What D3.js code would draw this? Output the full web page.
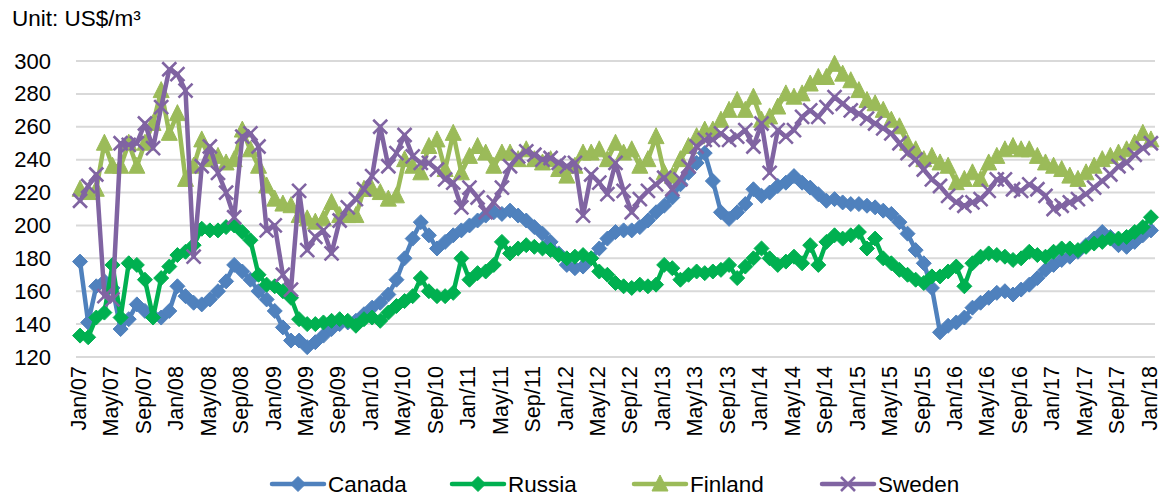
<!DOCTYPE html>
<html>
<head>
<meta charset="utf-8">
<script src="https://cdn.jsdelivr.net/npm/d3@7"></script>
<style>
  html, body { margin: 0; padding: 0; background: #fff; }
  svg text { font-family: "Liberation Sans", Arial, sans-serif; fill: #000; }
</style>
</head>
<body>
<svg id="chart" width="1161" height="497"></svg>
<script>
// Monthly export prices, Jan/07 .. Jan/18 (US$/m³).
const monthNames = ["Jan", "Feb", "Mar", "Apr", "May", "Jun", "Jul", "Aug", "Sep", "Oct", "Nov", "Dec"];
const years = ["07", "08", "09", "10", "11", "12", "13", "14", "15", "16", "17", "18"];
const categories = [];
years.forEach((yy) => monthNames.forEach((m) => categories.push(`${m}/${yy}`)));
categories.length = 133; // stop at Jan/18

const yTicks = [120, 140, 160, 180, 200, 220, 240, 260, 280, 300];
const xTickMonths = ["Jan", "May", "Sep"];

const canada = [
  178, 141, 163, 166, 162, 137, 143, 152, 148, 145, 144, 148,
  163, 157, 153, 152, 155, 160, 166, 176, 172, 167, 160, 155,
  148, 138, 130, 130, 126, 129, 133, 137, 140, 141, 142, 146,
  150, 153, 158, 167, 180, 192, 202, 194, 186, 190, 194, 197,
  200, 203, 206, 208, 207, 209, 206, 203, 199, 195, 190, 183,
  176, 174, 175, 180, 186, 192, 196, 197, 197, 199, 203, 208,
  212, 217, 225, 232, 238, 244, 227, 208, 204, 208, 213, 222,
  218, 220, 224, 226, 230, 226, 223, 219, 215, 216, 214, 213,
  213, 212, 211, 209, 207, 202, 195, 185, 177, 162, 135, 139,
  141, 144, 150, 153, 156, 159, 160, 158, 161, 164, 168, 173,
  176, 179, 181, 184, 188, 192, 196, 193, 188, 187, 190, 194,
  197
];

const russia = [
  133, 132, 144, 147, 176, 144, 177, 176, 167, 144, 168, 175,
  182, 184, 188, 198, 197, 197, 199, 200, 196, 191, 170, 164,
  163, 160, 156, 143, 140, 140, 141, 142, 143, 142, 139, 143,
  144, 142, 147, 151, 154, 157, 168, 160, 157, 157, 159, 180,
  167, 171, 172, 176, 190, 183, 186, 188, 187, 186, 185, 182,
  180, 181, 182, 180, 172, 170, 165, 163, 162, 164, 163, 164,
  176, 174, 167, 170, 172, 171, 172, 173, 176, 168, 175, 180,
  186, 180, 176, 178, 181, 177, 188, 176, 190, 194, 192, 194,
  196, 186, 192, 180, 177, 173, 170, 167, 165, 169, 169, 172,
  175, 163, 177, 181, 183, 182, 181, 179, 180, 184, 182, 181,
  184, 186, 186, 185, 187, 189, 190, 192, 192, 193, 196, 199,
  205
];

const finland = [
  222, 220, 222, 250, 236, 236, 250, 236, 250, 262, 282, 256,
  268, 228, 236, 252, 240, 242, 238, 240, 258, 246, 236, 224,
  216, 213, 212, 206, 204, 202, 204, 214, 206, 206, 206, 222,
  222, 220, 216, 218, 240, 236, 232, 248, 252, 234, 256, 232,
  242, 248, 244, 236, 244, 244, 240, 246, 240, 238, 240, 234,
  230, 236, 244, 244, 246, 240, 250, 244, 246, 236, 240, 254,
  232, 230, 240, 248, 254, 258, 258, 264, 270, 276, 270, 278,
  264, 266, 272, 280, 278, 280, 286, 290, 290, 298, 292, 288,
  282, 276, 274, 270, 264, 260, 250, 246, 240, 242, 238, 236,
  226, 228, 232, 228, 238, 242, 246, 248, 246, 246, 242, 238,
  236, 234, 230, 228, 232, 236, 240, 242, 244, 246, 250, 256,
  252
];

const sweden = [
  215, 224, 231, 157, 155, 250, 249, 250, 262, 247, 272, 295,
  292, 282, 181, 236, 248, 232, 220, 205, 254, 256, 248, 197,
  200, 170, 161, 221, 185, 193, 197, 183, 203, 211, 216, 222,
  230, 260, 236, 244, 255, 242, 238, 238, 234, 228, 226, 211,
  223, 217, 208, 214, 223, 236, 242, 245, 243, 240, 241, 238,
  236, 238, 206, 231, 226, 219, 238, 221, 208, 216, 221, 225,
  229, 222, 228, 236, 248, 252, 252, 256, 252, 254, 258, 248,
  262, 232, 258, 254, 258, 266, 270, 266, 272, 278, 274, 270,
  268, 265, 262, 259, 256, 250, 244, 240, 234, 228, 224, 218,
  214, 212, 214, 216, 221, 228, 228, 222, 221, 225, 222, 218,
  210, 212, 214, 216, 219, 223, 227, 231, 236, 238, 243, 247,
  250
];

const seriesNames = ["Canada", "Russia", "Finland", "Sweden"];
const seriesValues = [canada, russia, finland, sweden];
const seriesColors = ["#4F81BD", "#00B050", "#9BBB59", "#8064A2"];
const seriesMarkers = ["diamond", "diamond", "triangle", "cross"];

const svg = d3.select("#chart");
const plot = { left: 76, right: 1155, top: 61, bottom: 357 };

const x = d3.scaleBand().domain(categories).range([plot.left, plot.right]).padding(0);
const cx = (c) => x(c) + x.bandwidth() / 2;
const y = d3.scaleLinear().domain([120, 300]).range([plot.bottom, plot.top]);

// gridlines
svg.append("g")
  .selectAll("line")
  .data(yTicks)
  .join("line")
  .attr("x1", plot.left)
  .attr("x2", plot.right)
  .attr("y1", (d) => y(d))
  .attr("y2", (d) => y(d))
  .attr("stroke", "#d9d9d9")
  .attr("stroke-width", 2);

// y axis labels
const yAxis = svg.append("g")
  .attr("transform", `translate(${plot.left - 25},0)`)
  .call(d3.axisLeft(y).tickValues(yTicks).tickSize(0).tickPadding(0));
yAxis.select(".domain").remove();
yAxis.selectAll("text")
  .attr("font-size", 22)
  .attr("font-family", '"Liberation Sans", Arial, sans-serif')
  .attr("fill", "#000");

// x axis labels (every 4th month), rotated
const xAxis = svg.append("g")
  .attr("transform", `translate(0,${plot.bottom})`)
  .call(d3.axisBottom(x)
    .tickValues(categories.filter((c) => xTickMonths.includes(c.slice(0, 3))))
    .tickSize(0)
    .tickPadding(0));
xAxis.select(".domain").remove();
xAxis.selectAll("text")
  .attr("font-size", 21.5)
  .attr("font-family", '"Liberation Sans", Arial, sans-serif')
  .attr("fill", "#000")
  .attr("text-anchor", "end")
  .attr("transform", "rotate(-90)")
  .attr("x", -9)
  .attr("y", -2)
  .attr("dy", "0.36em");

// unit label
svg.append("text")
  .attr("x", 12)
  .attr("y", 26)
  .attr("font-size", 22.5)
  .text("Unit: US$/m³");

// marker shapes
function markerPath(kind) {
  if (kind === "diamond") return "M0,-7.5L7.5,0L0,7.5L-7.5,0Z";
  if (kind === "triangle") return "M0,-9L8,7L-8,7Z";
  return "M-7,-7L7,7M-7,7L7,-7";
}

function drawMarker(g, kind, color) {
  const p = g.append("path").attr("d", markerPath(kind));
  if (kind === "cross") {
    p.attr("fill", "none").attr("stroke", color).attr("stroke-width", 2.6);
  } else {
    p.attr("fill", color).attr("stroke", color).attr("stroke-width", 1);
  }
}

const line = d3.line()
  .x((d) => cx(d.c))
  .y((d) => y(d.v));

seriesNames.forEach((name, si) => {
  const data = seriesValues[si].map((v, i) => ({ c: categories[i], v }));
  const g = svg.append("g").attr("class", "series");
  g.append("path")
    .datum(data)
    .attr("d", line)
    .attr("fill", "none")
    .attr("stroke", seriesColors[si])
    .attr("stroke-width", 4.5)
    .attr("stroke-linejoin", "round")
    .attr("stroke-linecap", "round");
  g.selectAll("g.pt")
    .data(data)
    .join("g")
    .attr("class", "pt")
    .attr("transform", (d) => `translate(${cx(d.c)},${y(d.v)})`)
    .each(function () {
      drawMarker(d3.select(this), seriesMarkers[si], seriesColors[si]);
    });
});

// legend
const legendX = [272, 452, 634, 822];
const legend = svg.append("g").attr("transform", "translate(0,484)");
seriesNames.forEach((name, si) => {
  const g = legend.append("g").attr("transform", `translate(${legendX[si]},0)`);
  g.append("line")
    .attr("x1", 0).attr("x2", 52)
    .attr("stroke", seriesColors[si])
    .attr("stroke-width", 4.5)
    .attr("stroke-linecap", "round");
  const m = g.append("g").attr("transform", "translate(26,0)");
  drawMarker(m, seriesMarkers[si], seriesColors[si]);
  g.append("text")
    .attr("x", 56)
    .attr("dy", "0.36em")
    .attr("font-size", 22.5)
    .text(name);
});
</script>
</body>
</html>
